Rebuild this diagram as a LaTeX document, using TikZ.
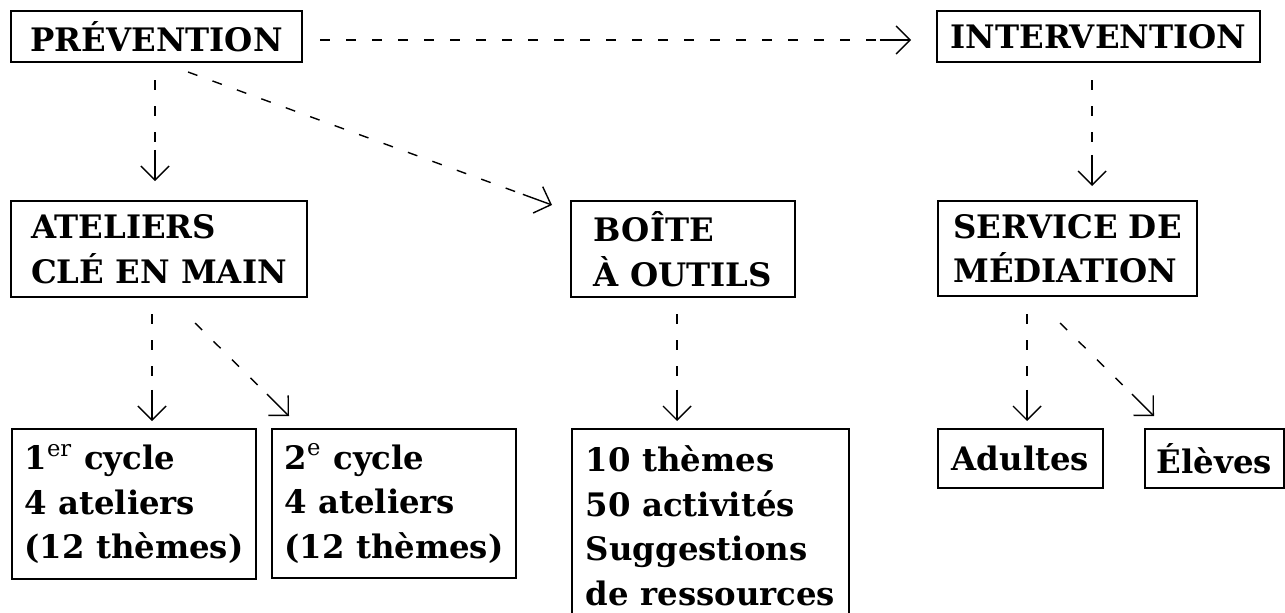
\documentclass[tikz,border=0pt]{standalone}
\usepackage{fontspec}
\setmainfont{DejaVu Serif}
\usepackage{tikz}
\usetikzlibrary{arrows.meta,calc}

\begin{document}
\begin{tikzpicture}[x=0.01cm, y=-0.01cm,
    box/.style={draw, line width=0.45pt, inner sep=0pt,
        font=\fontsize{9.2}{12.66}\selectfont\bfseries},
    multi/.style={box, align=left},
    dashline/.style={line width=0.4pt, dash pattern=on 0.1cm off 0.16cm},
    tipline/.style={line width=0.4pt, -{Straight Barb[length=0.14cm,width=0.28cm]}}]
    \useasboundingbox (0,0) rectangle (1285,612);
    % top row
    \node[box, minimum width=2.91cm, minimum height=0.51cm] (prev) at (156.5,36.5) {PRÉVENTION};
    \node[box, minimum width=3.23cm, minimum height=0.51cm] (interv) at (1098.5,36.5) {INTERVENTION};
    % middle row
    \node[multi, minimum width=2.96cm, minimum height=0.96cm] (ateliers) at (159,249) {ATELIERS\\CLÉ EN MAIN};
    \node[multi, minimum width=2.24cm, minimum height=0.96cm] (boite) at (683,249) {BOÎTE\\À OUTILS};
    \node[multi, minimum width=2.59cm, minimum height=0.95cm] (service) at (1067.5,248.5) {SERVICE DE\\MÉDIATION};
    % bottom row
    \node[multi, minimum width=2.44cm, minimum height=1.50cm] (cycA) at (134,504) {1\textsuperscript{\mdseries er} cycle\\4 ateliers\\(12 thèmes)};
    \node[multi, minimum width=2.44cm, minimum height=1.49cm] (cycB) at (394,503.5) {2\textsuperscript{\mdseries e} cycle\\4 ateliers\\(12 thèmes)};
    \node[multi, minimum width=2.77cm, minimum height=1.94cm] (themes) at (710.5,526) {10 thèmes\\50 activités\\Suggestions\\de ressources};
    \node[box, minimum width=1.65cm, minimum height=0.59cm] (adultes) at (1020.5,458.5) {Adultes};
    \node[box, minimum width=1.39cm, minimum height=0.59cm] (eleves) at (1214.5,458.5) {Élèves};
    % arrow ends
    \coordinate (prev-s1) at (155,80);    \coordinate (ateliers-n) at (155,181);
    \coordinate (prev-s2) at (188,72);    \coordinate (boite-n) at (552,205);
    \coordinate (prev-e) at (320,40);     \coordinate (interv-w) at (911,40);
    \coordinate (interv-s) at (1092,80);  \coordinate (service-n) at (1092,186);
    \coordinate (ateliers-s1) at (152,314); \coordinate (cycA-n) at (152,421);
    \coordinate (ateliers-s2) at (195,323); \coordinate (cycB-n) at (289,416);
    \coordinate (boite-s) at (677,314);   \coordinate (themes-n) at (677,421);
    \coordinate (service-s1) at (1027,314); \coordinate (adultes-n) at (1027,421);
    \coordinate (service-s2) at (1060,323); \coordinate (eleves-n) at (1154,416);
    \foreach \p/\q in {prev-s1/ateliers-n, prev-s2/boite-n, prev-e/interv-w,
        interv-s/service-n, ateliers-s1/cycA-n, ateliers-s2/cycB-n,
        boite-s/themes-n, service-s1/adultes-n, service-s2/eleves-n} {
        \draw[dashline] (\p) -- ($(\q)!0.31cm!(\p)$);
        \draw[tipline] ($(\q)!0.31cm!(\p)$) -- (\q);
    }
\end{tikzpicture}
\end{document}
